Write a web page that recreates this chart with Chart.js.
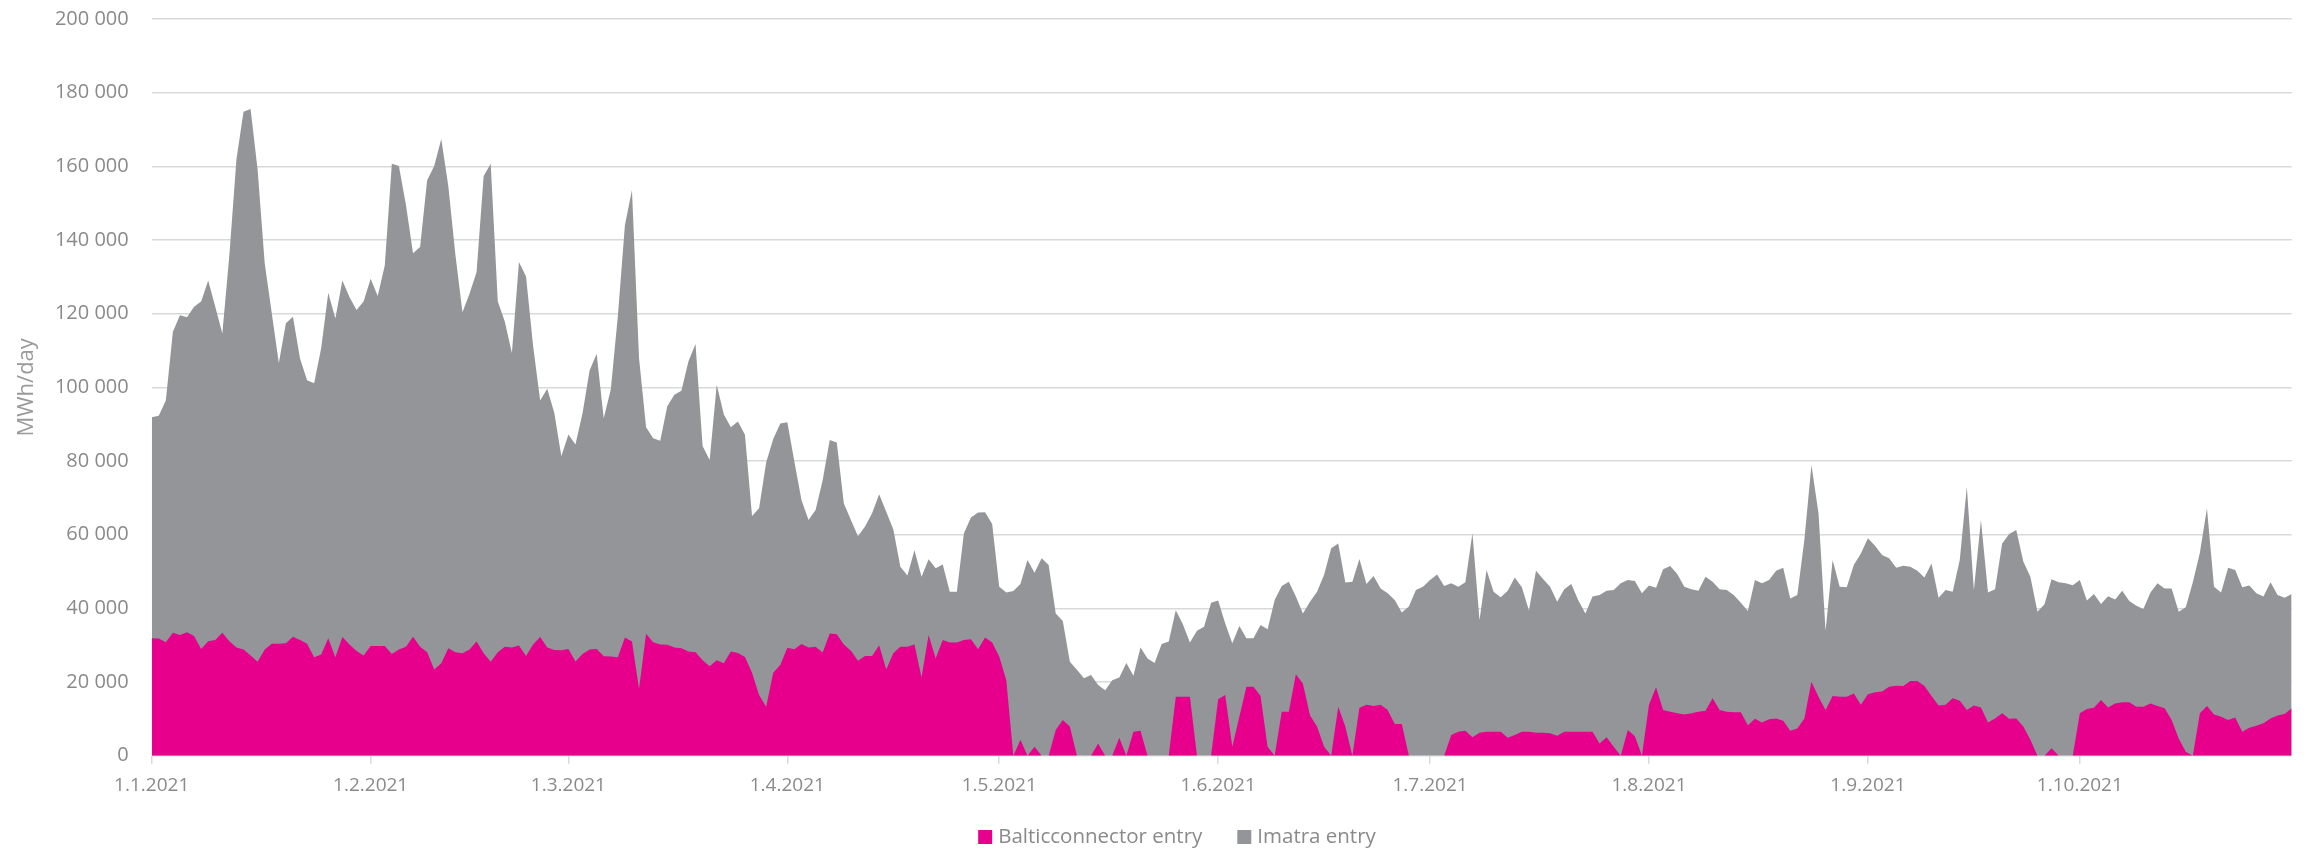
<!DOCTYPE html>
<html><head><meta charset="utf-8">
<script src="https://cdn.jsdelivr.net/npm/chart.js@4/dist/chart.umd.min.js"></script>
<style>html,body{margin:0;padding:0;background:#fff}#wrap{width:2306px;height:853px}</style>
</head><body><div id="wrap"><canvas id="c" width="2306" height="853"></canvas></div>
<script>
const seriesNames = ['Balticconnector entry', 'Imatra entry'];
const seriesColors = ['#e6008c', '#939598'];

// Daily values 1.1.2021 – 31.10.2021 (MWh/day)
const balticconnectorEntry = [
31900,31800,30800,33400,32800,33500,32500,29000,31100,31400,33400,31100,29400,28800,27200,25500,28800,30400,30400,30500,32300,31400,30400,26700,27500,31900,26700,32200,30200,28400,
27200,29800,29800,29800,27600,28800,29600,32300,29600,28100,23400,25100,29200,28100,27800,28800,31000,27800,25500,28100,29600,29400,29900,27100,30200,32200,29400,28700,28600,29000,
25600,27600,28800,29000,27000,26900,26700,32100,31000,18200,33100,30800,30200,30100,29400,29200,28300,28100,25900,24300,25900,25100,28300,27900,26800,22500,16500,13300,22500,
24600,29300,28900,30300,29400,29600,28000,33200,33000,30200,28500,25800,27100,27100,30000,23400,27800,29600,29600,30200,21200,32800,26400,31400,30700,30700,31400,31600,28900,32100,
30700,26900,20500,0,4300,0,2400,0,0,7000,9700,7900,0,0,0,3300,0,0,4900,0,6500,6800,0,0,0,0,16000,16000,16000,0,
0,0,15300,16500,2400,10600,18700,18700,16200,2400,0,11900,11900,22100,19500,11000,7900,2400,0,13300,7900,0,13000,13800,13500,13800,12400,8600,8600,0,
0,0,0,0,0,5600,6500,6800,5000,6200,6500,6500,6500,4900,5600,6500,6500,6200,6200,6100,5400,6500,6500,6500,6500,6500,3300,5000,2400,0,
7000,5300,0,13800,18600,12400,11900,11500,11200,11500,11900,12200,15600,12400,11900,11800,11800,8300,10000,9000,9900,10100,9500,6800,7400,10100,20100,16000,12400,16200,
16000,16000,16900,13800,16700,17200,17400,18700,19000,18900,20300,20300,18900,16200,13600,13800,15600,14900,12400,13600,13100,9000,10100,11500,10000,10100,7900,4300,0,
0,2000,0,0,0,11500,12700,13000,15100,13100,14200,14500,14500,13300,13300,14200,13500,12900,9700,4700,1100,0,11500,13500,11200,10600,9700,10400,6500,7600,8100,8800,10100,10900,11300,12900
];
const imatraEntry = [
60000,60500,65600,81700,86800,85500,89400,94300,97900,90500,81200,104900,132500,146000,148400,133500,104900,89700,76200,86900,86900,76400,71500,74400,83200,93800,92000,96800,94300,92600,
96100,99700,95000,103300,133100,131300,119900,104100,108500,128100,136700,142300,125400,107900,92600,96600,100300,129600,135200,95300,88200,79900,104100,103000,81100,64200,70200,64400,52700,58200,
58900,65400,75800,80100,64600,72500,92600,111900,122600,89800,56100,55400,55300,64800,68600,69900,78800,83700,58200,56000,74800,67600,60900,62800,60300,42600,50700,66300,63500,
65600,61200,50900,39100,34600,37100,46800,52500,52000,38300,35500,33800,35100,38700,41000,42800,33700,21700,19300,25600,27400,20500,24500,20500,13800,13800,29000,33100,37100,34000,
32200,19000,23800,44700,42300,53100,47300,53600,51800,31600,26900,17600,23300,21000,21900,15900,17800,20500,16300,25200,15200,22600,26400,25200,30300,31000,23500,19700,14700,33900,
35000,41500,26800,19400,28100,24600,13200,13200,19300,31900,42300,34200,35300,21100,19100,30800,36600,46700,56300,44300,39100,47200,40400,32800,35300,31600,31700,33700,30300,40500,
45000,45900,47700,49200,46100,41200,39400,40300,55400,30600,43900,38000,36500,39900,42800,39200,32900,44000,41800,39800,36400,38700,40100,35600,32100,36700,40300,39800,42600,46800,
40700,42100,44100,32400,27000,38200,39600,37800,34700,33700,32900,36400,31600,32800,33100,31800,29700,31000,37700,37800,37800,40100,41500,35900,36200,48500,58800,49800,21500,36900,
29900,29700,34900,41100,42300,39800,37100,34900,32000,32700,31000,29900,29500,36000,29300,31200,28900,38200,60600,31400,50900,35300,35100,46100,50200,51200,44800,44300,39100,
41100,45900,47100,46800,46300,36200,29400,30900,26100,30200,28200,30300,27500,27400,26500,30100,33300,32500,35700,34400,39200,47100,43600,53700,34700,33700,41300,40000,39200,38600,36000,34400,37000,32700,31600,31000
];

const monthTickLabels = ['1.1.2021','1.2.2021','1.3.2021','1.4.2021','1.5.2021','1.6.2021','1.7.2021','1.8.2021','1.9.2021','1.10.2021'];
const yTickValues = [0,20000,40000,60000,80000,100000,120000,140000,160000,180000,200000];
const yAxisTitle = 'MWh/day';

// categories: every day of 1.1.2021 – 31.10.2021
const categories = [];
for (let t = Date.UTC(2021,0,1); t <= Date.UTC(2021,9,31); t += 86400000) {
  const d = new Date(t);
  categories.push(d.getUTCDate() + '.' + (d.getUTCMonth()+1) + '.' + d.getUTCFullYear());
}

const FONT = '"Open Sans", "Liberation Sans", sans-serif';
const TEXT_COLOR = '#8a8a8a';
const fmt = v => String(v).replace(/\B(?=(\d{3})+(?!\d))/g, ' ');

const legendPlugin = {
  id: 'customLegend',
  afterDraw(chart) {
    const ctx = chart.ctx;
    ctx.save();
    ctx.font = '20.5px ' + FONT;
    ctx.textBaseline = 'middle';
    const box = 14, gapText = 6, gapItem = 35, cy = 837;
    const widths = seriesNames.map(n => box + gapText + ctx.measureText(n).width);
    const total = widths.reduce((a,b)=>a+b,0) + gapItem*(widths.length-1);
    let x = 1177 - total/2;
    seriesNames.forEach((n,i) => {
      ctx.fillStyle = seriesColors[i];
      ctx.fillRect(x, cy - box/2, box, box);
      ctx.fillStyle = TEXT_COLOR;
      ctx.fillText(n, x + box + gapText, cy);
      x += widths[i] + gapItem;
    });
    ctx.restore();
  }
};

new Chart(document.getElementById('c'), {
  type: 'line',
  data: {
    labels: categories,
    datasets: [
      { label: seriesNames[0], data: balticconnectorEntry, backgroundColor: seriesColors[0], borderColor: seriesColors[0],
        borderWidth: 0, pointRadius: 0, fill: 'origin', tension: 0, order: 0 },
      { label: seriesNames[1], data: imatraEntry, backgroundColor: seriesColors[1], borderColor: seriesColors[1],
        borderWidth: 0, pointRadius: 0, fill: 'origin', tension: 0, order: 1 }
    ]
  },
  options: {
    responsive: false,
    animation: false,
    devicePixelRatio: 1,
    layout: { padding: { left: 0, right: 14.3, top: 19, bottom: 0 } },
    plugins: { legend: { display: false }, tooltip: { enabled: false } },
    scales: {
      x: {
        type: 'category',
        offset: false,
        afterFit: s => { s.height = 97.3; s.paddingTop = 0; },
        afterBuildTicks: s => { s.ticks = s.ticks.filter(t => monthTickLabels.includes(categories[t.value])); },
        border: { display: false },
        grid: { drawOnChartArea: false, drawTicks: true, tickLength: 8, color: '#d9d9d9', lineWidth: 1.5 },
        ticks: { autoSkip: false, maxRotation: 0, minRotation: 0, padding: 10, color: TEXT_COLOR,
                 font: { family: FONT, size: 19 },
                 callback: function(v) { return categories[v]; } }
      },
      y: {
        stacked: true,
        min: 0, max: 200000,
        afterFit: s => { s.width = 151.7; s.paddingTop = 0; s.paddingBottom = 0; },
        afterBuildTicks: s => { s.ticks = yTickValues.map(v => ({ value: v })); },
        border: { display: false },
        grid: { color: '#d9d9d9', lineWidth: 1.5, drawTicks: false },
        ticks: { padding: 23, color: TEXT_COLOR, font: { family: FONT, size: 20 }, callback: v => fmt(v) },
        title: { display: true, text: yAxisTitle, color: '#9a9a9a', font: { family: FONT, size: 22 }, padding: { top: 14, bottom: 0 } }
      }
    }
  },
  plugins: [legendPlugin]
});
</script></body></html>
